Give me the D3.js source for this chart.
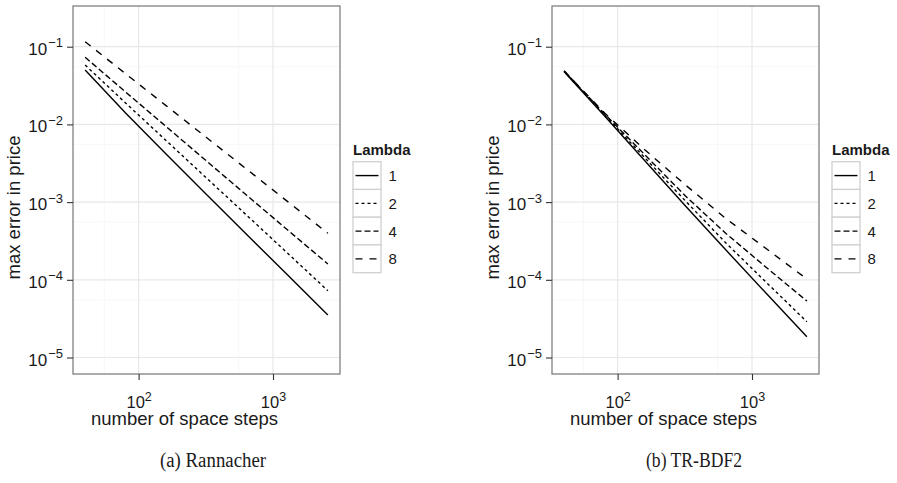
<!DOCTYPE html>
<html>
<head>
<meta charset="utf-8">
<script src="https://cdn.jsdelivr.net/npm/d3@7"></script>
<style>
  html, body { margin: 0; padding: 0; background: #fff; }
  svg { display: block; }
  text { font-family: "Liberation Sans", Arial, Helvetica, sans-serif; fill: #1a1a1a; }
  .caption { font-family: "Liberation Serif", "Times New Roman", serif; }
</style>
</head>
<body>
<svg id="chart" width="897" height="483"></svg>
<script>
// ---------------- data ----------------
const spaceSteps = [40, 80, 160, 320, 640, 1280, 2560];
const lambdas = ["1", "2", "4", "8"];

// Rannacher: max error in price per Lambda
const rannacherL1 = [0.0501, 0.01403, 0.00416, 0.001253, 3.80e-4, 1.16e-4, 3.52e-5];
const rannacherL2 = [0.0581, 0.01886, 0.00621, 0.00204, 6.73e-4, 2.21e-4, 7.24e-5];
const rannacherL4 = [0.0731, 0.02612, 0.00940, 0.00338, 0.001217, 4.40e-4, 1.60e-4];
const rannacherL8 = [0.1160, 0.0449, 0.01746, 0.00678, 0.002635, 0.001021, 3.97e-4];

// TR-BDF2: max error in price per Lambda
const trbdf2L1 = [0.04767, 0.01282, 0.003381, 8.91e-4, 2.415e-4, 6.66e-5, 1.852e-5];
const trbdf2L2 = [0.04867, 0.01321, 0.003694, 0.001033, 2.976e-4, 9.23e-5, 2.889e-5];
const trbdf2L4 = [0.04867, 0.01361, 0.004038, 0.001198, 3.944e-4, 1.44e-4, 5.33e-5];
const trbdf2L8 = [0.04867, 0.01402, 0.004683, 0.001660, 6.13e-4, 2.506e-4, 1.024e-4];

const xTickValues = [100, 1000];
const xTickExponents = ["2", "3"];
const yTickValues = [1e-1, 1e-2, 1e-3, 1e-4, 1e-5];
const yTickExponents = ["\u22121", "\u22122", "\u22123", "\u22124", "\u22125"];
const yLimits = [6.135e-6, 0.3341];

const captions = ["(a) Rannacher", "(b) TR-BDF2"];
const xTitle = "number of space steps";
const yTitle = "max error in price";
const legendTitle = "Lambda";

// ---------------- layout / style ----------------
const panelW = 267, panelH = 368, panelTop = 6;
const panelLefts = [73, 552];
const dashes = { "1": null, "2": "3,3", "4": "6,3", "8": "7,7" };

const svg = d3.select("#chart");

const lx0 = Math.log10(d3.min(spaceSteps)), lx1 = Math.log10(d3.max(spaceSteps));
const pad = 0.05 * (lx1 - lx0);
const x = d3.scaleLog().domain([Math.pow(10, lx0 - pad), Math.pow(10, lx1 + pad)]).range([0, panelW]);
const y = d3.scaleLog().domain(yLimits).range([panelH, 0]);

// minor grid values (between decades)
const xMinor = [55.5, 555];
const yMinor = [0.0553, 0.00553, 0.000553, 0.0000553];

const panelsData = [
  [rannacherL1, rannacherL2, rannacherL4, rannacherL8],
  [trbdf2L1, trbdf2L2, trbdf2L4, trbdf2L8]
];

panelsData.forEach((seriesList, pi) => {
  const g = svg.append("g").attr("transform", `translate(${panelLefts[pi]},${panelTop})`);

  g.append("rect").attr("width", panelW).attr("height", panelH).attr("fill", "#fff");

  // minor grid
  g.selectAll(".xminor").data(xMinor.filter(v => x(v) > 0 && x(v) < panelW)).enter()
    .append("line").attr("x1", d => x(d)).attr("x2", d => x(d)).attr("y1", 0).attr("y2", panelH)
    .attr("stroke", "#f5f5f5").attr("stroke-width", 0.8);
  g.selectAll(".yminor").data(yMinor.filter(v => y(v) > 0 && y(v) < panelH)).enter()
    .append("line").attr("y1", d => y(d)).attr("y2", d => y(d)).attr("x1", 0).attr("x2", panelW)
    .attr("stroke", "#f5f5f5").attr("stroke-width", 0.8);
  // major grid
  g.selectAll(".xmajor").data(xTickValues).enter()
    .append("line").attr("x1", d => x(d)).attr("x2", d => x(d)).attr("y1", 0).attr("y2", panelH)
    .attr("stroke", "#e8e8e8").attr("stroke-width", 1.2);
  g.selectAll(".ymajor").data(yTickValues).enter()
    .append("line").attr("y1", d => y(d)).attr("y2", d => y(d)).attr("x1", 0).attr("x2", panelW)
    .attr("stroke", "#e8e8e8").attr("stroke-width", 1.2);

  // lines
  const line = d3.line().x(d => x(d[0])).y(d => y(d[1]));
  seriesList.forEach((vals, li) => {
    const pts = spaceSteps.map((n, i) => [n, vals[i]]);
    g.append("path").attr("d", line(pts)).attr("fill", "none")
      .attr("stroke", "#000").attr("stroke-width", 1.4)
      .attr("stroke-dasharray", dashes[lambdas[li]]);
  });

  // border
  g.append("rect").attr("width", panelW).attr("height", panelH).attr("fill", "none")
    .attr("stroke", "#808080").attr("stroke-width", 1.3);

  // x axis
  const xAxis = d3.axisBottom(x).tickValues(xTickValues).tickSize(6).tickFormat("");
  const xa = g.append("g").attr("transform", `translate(0,${panelH})`).call(xAxis);
  xa.select(".domain").remove();
  xa.selectAll(".tick line").attr("stroke", "#333").attr("stroke-width", 1.1);
  xa.selectAll(".tick").each(function(d, i) {
    const t = d3.select(this).append("text").attr("y", 34).attr("text-anchor", "middle")
      .attr("font-size", 16.5).attr("fill", "#1a1a1a");
    t.append("tspan").text("10");
    t.append("tspan").attr("dy", -7.5).attr("font-size", 12.5).text(xTickExponents[i]);
  });

  // y axis
  const yAxis = d3.axisLeft(y).tickValues(yTickValues).tickSize(6).tickFormat("");
  const ya = g.append("g").call(yAxis);
  ya.select(".domain").remove();
  ya.selectAll(".tick line").attr("stroke", "#333").attr("stroke-width", 1.1);
  ya.selectAll(".tick").each(function(d, i) {
    const t = d3.select(this).append("text").attr("x", -10).attr("y", 7.5).attr("text-anchor", "end")
      .attr("font-size", 17).attr("fill", "#1a1a1a");
    t.append("tspan").text("10");
    t.append("tspan").attr("dx", 1).attr("dy", -7.5).attr("font-size", 13).text(yTickExponents[i]);
  });

  // axis titles
  g.append("text").attr("x", panelW / 2 - 22).attr("y", panelH + 51).attr("text-anchor", "middle")
    .attr("font-size", 18.5).text(xTitle);
  g.append("text").attr("transform", `translate(${-53.5},${panelH / 2 + 17.5}) rotate(-90)`)
    .attr("text-anchor", "middle").attr("font-size", 18.5).text(yTitle);

  // legend
  const lg = svg.append("g").attr("transform", `translate(${panelLefts[pi] + panelW + 13},${panelTop})`);
  lg.append("text").attr("x", 0).attr("y", 149).attr("font-size", 15).attr("font-weight", "bold").text(legendTitle);
  const keyH = 27.75, keyW = 28, keyTop = 155.7;
  lambdas.forEach((lam, k) => {
    const ky = keyTop + k * keyH;
    lg.append("rect").attr("x", 0).attr("y", ky).attr("width", keyW).attr("height", keyH)
      .attr("fill", "#fff").attr("stroke", "#d0d0d0").attr("stroke-width", 1.3);
    lg.append("line").attr("x1", 2.5).attr("x2", keyW - 2.5).attr("y1", ky + keyH / 2).attr("y2", ky + keyH / 2)
      .attr("stroke", "#000").attr("stroke-width", 1.4).attr("stroke-dasharray", dashes[lam]);
    lg.append("text").attr("x", keyW + 7.5).attr("y", ky + keyH / 2 + 5.5).attr("font-size", 15).text(lam);
  });

  // caption
  svg.append("text").attr("class", "caption")
    .attr("x", [213, 694][pi]).attr("y", 467).attr("text-anchor", "middle")
    .attr("font-size", 20.5).attr("textLength", [106, 96][pi]).attr("lengthAdjust", "spacingAndGlyphs")
    .text(captions[pi]);
});
</script>
</body>
</html>
